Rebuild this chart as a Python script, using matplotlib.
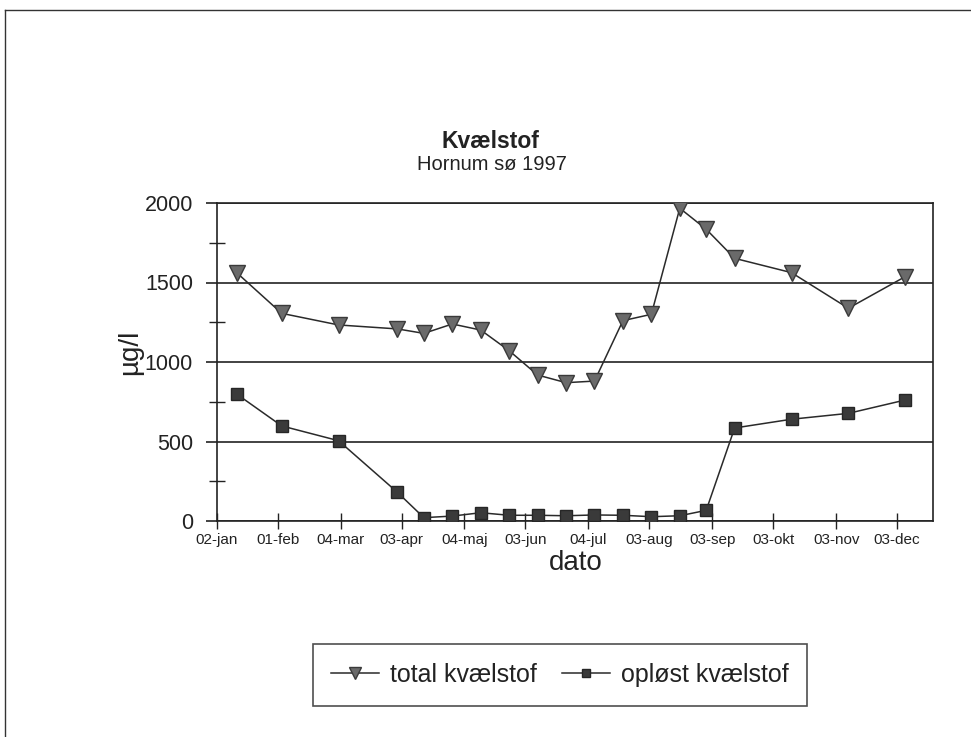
import matplotlib
matplotlib.use('Agg')
import matplotlib.pyplot as plt
import pandas as pd
from matplotlib.lines import Line2D

plt.rcParams['font.family'] = ['Liberation Sans', 'DejaVu Sans']
plt.rcParams['text.color'] = '#222222'
plt.rcParams['axes.labelcolor'] = '#222222'
plt.rcParams['xtick.color'] = '#222222'
plt.rcParams['ytick.color'] = '#222222'

# sampling dates, Hornum sø 1997
dates = ['1997-01-12', '1997-02-03', '1997-03-03', '1997-04-01', '1997-04-14',
         '1997-04-28', '1997-05-12', '1997-05-26', '1997-06-09', '1997-06-23',
         '1997-07-07', '1997-07-21', '1997-08-04', '1997-08-18', '1997-08-31',
         '1997-09-14', '1997-10-12', '1997-11-09', '1997-12-07']
total = [1560, 1306, 1233, 1208, 1180, 1239, 1201, 1071, 918, 870,
         880, 1260, 1300, 1967, 1835, 1652, 1562, 1338, 1537]
oploest = [797, 598, 505, 180, 21, 31, 52, 36, 36, 33,
           38, 36, 27, 33, 67, 585, 640, 677, 761]

tick_dates = ['1997-01-02', '1997-02-01', '1997-03-04', '1997-04-03',
              '1997-05-04', '1997-06-03', '1997-07-04', '1997-08-03',
              '1997-09-03', '1997-10-03', '1997-11-03', '1997-12-03']
tick_labels = ['02-jan', '01-feb', '04-mar', '03-apr', '04-maj', '03-jun',
               '04-jul', '03-aug', '03-sep', '03-okt', '03-nov', '03-dec']
y_major = [0, 500, 1000, 1500, 2000]
y_minor = [250, 750, 1250, 1750]

W, H = 971, 737
fig = plt.figure(figsize=(W / 100, H / 100), dpi=100)
ax = fig.add_axes([216.7 / W, 1 - 521 / H, (933 - 216.7) / W, 318 / H])

x = pd.to_datetime(dates)
ax.plot(x, total, color='#2a2a2a', lw=1.1, marker='v', ms=11,
        mfc='#6a6a6a', mec='#3a3a3a', mew=1, label='total kvælstof', zorder=3)
ax.plot(x, oploest, color='#2a2a2a', lw=1.1, marker='s', ms=8.5,
        mfc='#3a3a3a', mec='#262626', mew=1, label='opløst kvælstof', zorder=3)

ax.set_xlim(pd.Timestamp('1997-01-02'), pd.Timestamp('1997-12-20 16:00'))
ax.set_ylim(0, 2000)
ax.set_yticks(y_major)
ax.set_yticks(y_minor, minor=True)
ax.yaxis.grid(True, which='major', color='#222222', lw=1.2)
ax.set_axisbelow(True)
ax.tick_params(axis='y', which='major', direction='out', length=8, width=1.2,
               labelsize=15.5, pad=9)
ax.tick_params(axis='y', which='minor', direction='inout', length=11, width=1)
ax.set_xticks(pd.to_datetime(tick_dates))
ax.set_xticklabels(tick_labels)
ax.tick_params(axis='x', which='major', direction='inout', length=11, width=1,
               labelsize=11, pad=3)
ax.tick_params(axis='x', which='minor', length=0)
for s in ax.spines.values():
    s.set_color('#222222')
    s.set_linewidth(1.2)

fig.text(490 / W, 1 - 142 / H, 'Kvælstof', ha='center', va='center',
         fontsize=16.5, fontweight='bold')
fig.text(492 / W, 1 - 164 / H, 'Hornum sø 1997', ha='center', va='center',
         fontsize=14.5)
fig.text(576 / W, 1 - 563 / H, 'dato', ha='center', va='center', fontsize=20)
fig.text(130 / W, 1 - 352 / H, 'µg/l', ha='center', va='center', fontsize=20,
         rotation=90)

leg = fig.legend(loc='center', bbox_to_anchor=(560 / W, 1 - 675 / H), ncol=2,
                 frameon=True, fancybox=False, edgecolor='#222222',
                 fontsize=18, handlelength=1.9, borderpad=0.75,
                 columnspacing=1.0, handletextpad=0.45, markerscale=0.75)
leg.get_frame().set_linewidth(1.2)

# outer frame of the scanned page
fig.add_artist(Line2D([5 / W, 1], [1 - 10 / H, 1 - 10 / H],
                      transform=fig.transFigure, color='#333333', lw=1))
fig.add_artist(Line2D([5 / W, 5 / W], [0, 1 - 10 / H],
                      transform=fig.transFigure, color='#333333', lw=1))

fig.savefig('out.png', dpi=100)
